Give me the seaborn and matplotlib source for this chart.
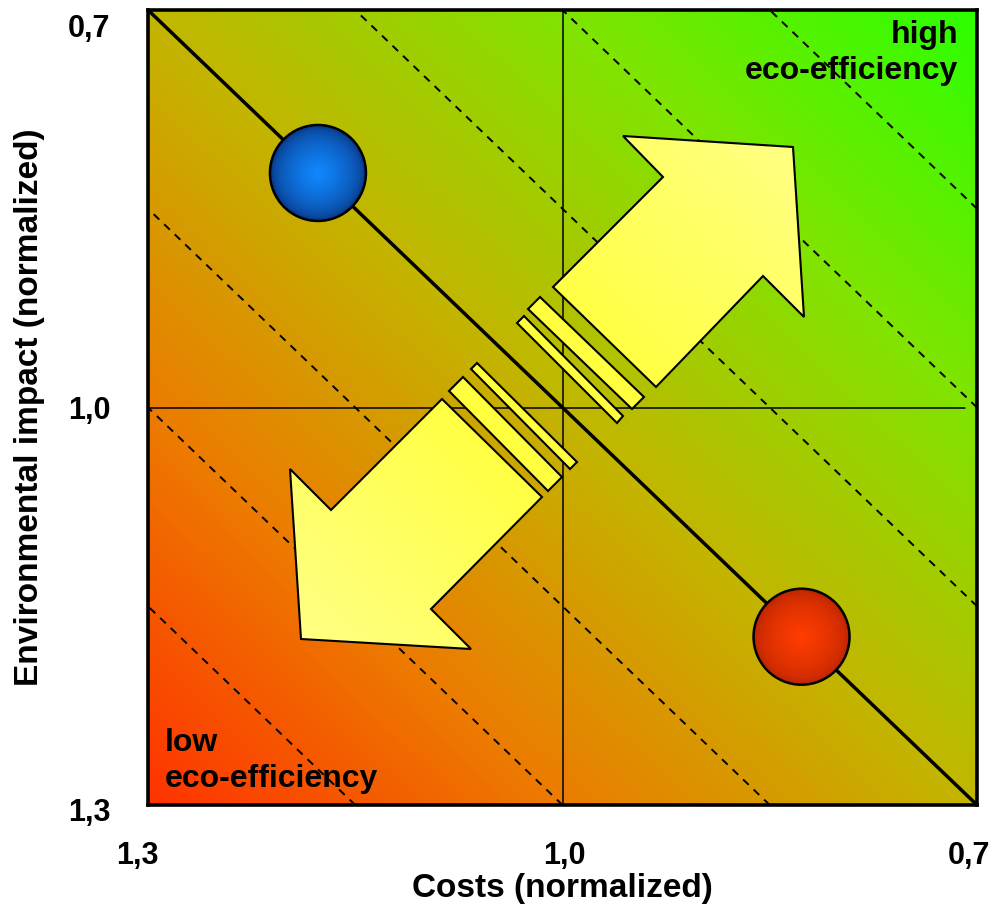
import numpy as np
import matplotlib
matplotlib.use('Agg')
import matplotlib.pyplot as plt
import matplotlib.transforms as mtransforms
import seaborn as sns
from matplotlib.colors import LinearSegmentedColormap, to_rgb
from matplotlib.patches import Polygon

# axis setup (both axes run from 1.3 down to 0.7)
axis_ticks = [1.3, 1.0, 0.7]
axis_tick_labels = ['1,3', '1,0', '0,7']
x_label = 'Costs (normalized)'
y_label = 'Environmental impact (normalized)'

# the two products, both on the average eco-efficiency line
product_names = ['A', 'B']
product_costs = [1.177, 0.827]
product_impacts = [0.823, 1.173]
product_edge_colors = ['#083a8a', '#be2600']
product_center_colors = ['#1088ff', '#ff3c00']

# iso eco-efficiency lines: costs + impact = const
diag_sum = 2.0
iso_sums = [1.55, 1.70, 1.85, 2.15, 2.30, 2.45]

high_label = 'high\neco-efficiency'
low_label = 'low\neco-efficiency'

# background gradient, red (low) -> green (high)
bg_stops = [(0.0, '#ff3300'), (0.25, '#ec7c00'), (0.5, '#c2b600'),
            (0.75, '#80e400'), (1.0, '#2cff00')]

# arrow shapes, in pixels of the 993x910 picture
up_arrow = [(553, 287), (663, 177), (623, 136), (793, 147), (804, 317), (763, 276), (656, 387)]
down_arrow = [(442, 399), (542, 497), (431, 609), (471, 649), (301, 639), (290, 469), (331, 510)]
stripes = [
    [(540, 297), (644, 397), (632, 409), (528, 309)],
    [(524, 316), (623, 416), (617, 423), (517, 323)],
    [(477, 363), (577, 462), (570, 469), (471, 369)],
    [(463, 377), (562, 477), (548, 491), (449, 391)],
]

AX_L, AX_R, AX_T, AX_B = 148, 977, 10, 805
W, H = 993, 910

# small nudges (px) of the tick labels, as in the original slide
x_label_shift = [-11, 2, -8]
y_label_shift = [-5, 0, -16]


def to_axes(pts):
    return [((px - AX_L) / (AX_R - AX_L), (AX_B - py) / (AX_B - AX_T)) for px, py in pts]


sns.set_theme(style='white')
plt.rcParams['font.family'] = ['Liberation Sans', 'DejaVu Sans']
plt.rcParams['font.weight'] = 'bold'
for key in ['text.color', 'axes.labelcolor', 'xtick.color', 'ytick.color']:
    plt.rcParams[key] = 'black'

fig = plt.figure(figsize=(W / 100, H / 100), dpi=100)
ax = fig.add_axes([AX_L / W, (H - AX_B) / H, (AX_R - AX_L) / W, (AX_B - AX_T) / H])

# background
n = 400
fx, fy = np.meshgrid(np.linspace(0, 1, n), np.linspace(0, 1, n))
bg_cmap = LinearSegmentedColormap.from_list('eco', bg_stops)
ax.imshow(bg_cmap((fx + fy) / 2), extent=(0, 1, 0, 1), origin='lower',
          transform=ax.transAxes, aspect='auto', zorder=0, interpolation='bilinear')

# iso lines
for s in iso_sums:
    ax.axline((1.0, s - 1.0), slope=-1, color='black', lw=1.4,
              linestyle=(0, (4, 3.5)), zorder=1)
ax.axline((1.0, diag_sum - 1.0), slope=-1, color='black', lw=2.5, zorder=2)
ax.axvline(1.0, color='black', lw=1.1, zorder=1)
ax.axhline(1.0, xmax=0.985, color='black', lw=1.1, zorder=1)

# arrows with a light yellow gradient towards the tips
u = np.clip(np.abs(fx + fy - 1) / 0.62, 0, 1)
arrow_img = np.zeros((n, n, 4))
c0, c1 = np.array(to_rgb('#ffff30')), np.array(to_rgb('#ffff85'))
for i in range(3):
    arrow_img[..., i] = c0[i] + (c1[i] - c0[i]) * u
arrow_img[..., 3] = 1
for shape in [up_arrow, down_arrow]:
    patch = Polygon(to_axes(shape), closed=True, transform=ax.transAxes,
                    facecolor='none', edgecolor='black', lw=1.5, zorder=4)
    ax.add_patch(patch)
    im = ax.imshow(arrow_img, extent=(0, 1, 0, 1), origin='lower',
                   transform=ax.transAxes, aspect='auto', zorder=3)
    im.set_clip_path(patch)
for shape in stripes:
    ax.add_patch(Polygon(to_axes(shape), closed=True, transform=ax.transAxes,
                         facecolor='#ffff40', edgecolor='black', lw=1.5, zorder=4))

# product circles, shaded from edge to centre
s_max = (2 * 48 * 0.72) ** 2
sns.scatterplot(x=product_costs, y=product_impacts, hue=product_names,
                palette=product_edge_colors, s=s_max, edgecolor='black',
                linewidth=1.8, legend=False, ax=ax, zorder=5)
layers = 30
for k in range(1, layers):
    f = k / layers
    cols = [tuple(np.array(to_rgb(e)) + (np.array(to_rgb(c)) - np.array(to_rgb(e))) * f ** 0.6)
            for e, c in zip(product_edge_colors, product_center_colors)]
    ax.scatter(product_costs, product_impacts, s=s_max * (1 - f * 0.97) ** 2 * 0.96,
               c=cols, linewidths=0, zorder=6)

# corner labels
ax.text(0.977, 0.987, high_label, transform=ax.transAxes, ha='right', va='top',
        multialignment='right', fontsize=23, fontweight='bold', linespacing=1.25, zorder=7)
ax.text(0.0205, 0.014, low_label, transform=ax.transAxes, ha='left', va='bottom',
        multialignment='left', fontsize=23, fontweight='bold', linespacing=1.25, zorder=7)

ax.set_xlim(1.3, 0.7)
ax.set_ylim(1.3, 0.7)
ax.set_xticks(axis_ticks)
ax.set_xticklabels(axis_tick_labels)
ax.set_yticks(axis_ticks)
ax.set_yticklabels(axis_tick_labels)
ax.tick_params(axis='both', length=0, labelsize=22)
ax.tick_params(axis='x', pad=26)
ax.tick_params(axis='y', pad=27)
for lbl, dx in zip(ax.get_xticklabels(), x_label_shift):
    lbl.set_fontweight('bold')
    lbl.set_transform(lbl.get_transform() + mtransforms.ScaledTranslation(dx / 100, 0, fig.dpi_scale_trans))
for lbl, dy in zip(ax.get_yticklabels(), y_label_shift):
    lbl.set_fontweight('bold')
    lbl.set_transform(lbl.get_transform() + mtransforms.ScaledTranslation(0, dy / 100, fig.dpi_scale_trans))
ax.grid(False)

ax.set_xlabel(x_label, fontsize=24, fontweight='bold')
ax.set_ylabel(y_label, fontsize=24, fontweight='bold')
ax.xaxis.set_label_coords(0.5, (AX_B - 889) / (AX_B - AX_T))
ax.xaxis.label.set_va('center')
ax.yaxis.set_label_coords((30 - AX_L) / (AX_R - AX_L), 0.5)
ax.yaxis.label.set_va('center')

for sp in ax.spines.values():
    sp.set_linewidth(2.6)
    sp.set_color('black')
    sp.set_zorder(8)

fig.savefig('out.png', dpi=100)
